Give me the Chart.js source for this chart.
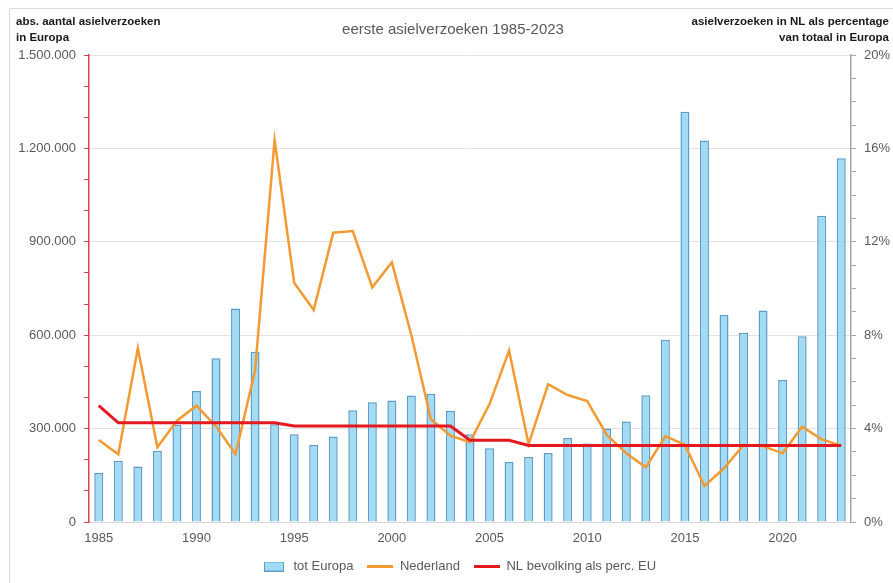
<!DOCTYPE html>
<html>
<head>
<meta charset="utf-8">
<script src="https://cdn.jsdelivr.net/npm/chart.js@4"></script>
<style>
  html, body { margin: 0; padding: 0; background: #ffffff; }
  #wrap { width: 893px; height: 583px; position: relative; }
</style>
</head>
<body>
<div id="wrap"><canvas id="c" width="893" height="583"></canvas></div>
<script>
// ---- data ----
const years = [1985,1986,1987,1988,1989,1990,1991,1992,1993,1994,1995,1996,1997,1998,1999,2000,2001,2002,2003,2004,2005,2006,2007,2008,2009,2010,2011,2012,2013,2014,2015,2016,2017,2018,2019,2020,2021,2022,2023];
const totEuropa = [157000,197000,178000,229000,312000,421000,526000,686000,547000,314000,282000,247000,275000,359000,385000,390000,406000,412000,357000,282000,237000,193000,209000,222000,270000,252000,300000,323000,407000,585000,1318000,1225000,665000,608000,679000,456000,597000,984000,1168000];
const nederland = [3.51,2.90,7.44,3.20,4.34,4.98,4.10,2.90,6.50,16.36,10.25,9.08,12.39,12.46,10.05,11.12,8.00,4.40,3.70,3.42,5.05,7.34,3.33,5.90,5.44,5.18,3.73,2.94,2.34,3.68,3.30,1.54,2.30,3.30,3.25,2.94,4.08,3.54,3.27];
const nlBevolking = [4.98,4.25,4.25,4.25,4.25,4.25,4.25,4.25,4.25,4.25,4.11,4.11,4.11,4.11,4.11,4.11,4.11,4.11,4.11,3.50,3.50,3.50,3.28,3.28,3.28,3.28,3.28,3.28,3.28,3.28,3.28,3.28,3.28,3.28,3.28,3.28,3.28,3.28,3.28];
const seriesNames = ['tot Europa', 'Nederland', 'NL bevolking als perc. EU'];
const chartTitle = 'eerste asielverzoeken 1985-2023';
const leftTitle = ['abs. aantal asielverzoeken', 'in Europa'];
const rightTitle = ['asielverzoeken in NL als percentage', 'van totaal in Europa'];

// ---- styles ----
const BAR_FILL = '#a4dbf4';
const BAR_EDGE = '#5a9dc8';
const ORANGE = '#f39a33';
const RED = '#e3191f';
const TXT = '#595959';
const FONT = "'Liberation Sans', Arial, sans-serif";

function fmtDots(v) { return String(v).replace(/\B(?=(\d{3})+(?!\d))/g, '.'); }

function makeIcon(kind, color, edge) {
  const c = document.createElement('canvas');
  if (kind === 'bar') {
    c.width = 20; c.height = 10;
    const g = c.getContext('2d');
    g.fillStyle = color; g.fillRect(0, 0, 20, 10);
    g.strokeStyle = edge; g.lineWidth = 1; g.strokeRect(0.5, 0.5, 19, 9);
  } else {
    c.width = 26; c.height = 3;
    const g = c.getContext('2d');
    g.fillStyle = color; g.fillRect(0, 0, 26, 3);
  }
  return c;
}
const icons = [makeIcon('bar', BAR_FILL, BAR_EDGE), makeIcon('line', ORANGE), makeIcon('line', RED)];

const decor = {
  id: 'decor',
  afterLayout(chart) {
    if (chart.legend) { chart.legend.left += 12; chart.legend.right += 12; }
  },
  beforeDraw(chart) {
    const ctx = chart.ctx;
    ctx.save();
    ctx.strokeStyle = '#d9d9d9';
    ctx.lineWidth = 1;
    ctx.beginPath();
    ctx.moveTo(9.5, 583); ctx.lineTo(9.5, 8.5); ctx.lineTo(893, 8.5);
    ctx.stroke();
    ctx.restore();
  },
  afterDraw(chart) {
    const ctx = chart.ctx;
    ctx.save();
    ctx.textBaseline = 'middle';
    ctx.fillStyle = TXT;
    ctx.font = "15px " + FONT;
    ctx.textAlign = 'center';
    ctx.fillText(chartTitle, 453, 30);
    ctx.fillStyle = '#1a1a1a';
    ctx.font = "bold 11.5px " + FONT;
    ctx.textAlign = 'left';
    ctx.fillText(leftTitle[0], 16, 22);
    ctx.fillText(leftTitle[1], 16, 38);
    ctx.textAlign = 'right';
    ctx.fillText(rightTitle[0], 889, 22);
    ctx.fillText(rightTitle[1], 889, 38);
    ctx.restore();
  }
};

new Chart(document.getElementById('c'), {
  data: {
    labels: years,
    datasets: [
      { type: 'bar', label: seriesNames[0], data: totEuropa, yAxisID: 'y',
        backgroundColor: BAR_FILL, borderColor: BAR_EDGE, borderWidth: 1.5,
        barPercentage: 0.46, categoryPercentage: 1, order: 3 },
      { type: 'line', label: seriesNames[1], data: nederland, yAxisID: 'y1',
        borderColor: ORANGE, backgroundColor: ORANGE, borderWidth: 2.5,
        pointRadius: 0, tension: 0, order: 2 },
      { type: 'line', label: seriesNames[2], data: nlBevolking, yAxisID: 'y1',
        borderColor: RED, backgroundColor: RED, borderWidth: 3,
        pointRadius: 0, tension: 0, order: 1 }
    ]
  },
  options: {
    responsive: false,
    animation: false,
    devicePixelRatio: 1,
    layout: { padding: { top: 55, left: 0, right: 0, bottom: 0 } },
    plugins: {
      title: { display: false },
      tooltip: { enabled: false },
      legend: {
        position: 'bottom',
        labels: {
          usePointStyle: true,
          pointStyleWidth: 26,
          padding: 14,
          color: TXT,
          font: { family: FONT, size: 13 },
          sort: (a, b) => a.datasetIndex - b.datasetIndex,
          generateLabels(chart) {
            const items = Chart.defaults.plugins.legend.labels.generateLabels(chart);
            items.forEach(it => { it.pointStyle = icons[it.datasetIndex]; it.lineWidth = 0; });
            return items;
          }
        }
      }
    },
    scales: {
      x: {
        type: 'category',
        offset: true,
        grid: { display: false, drawTicks: false },
        border: { display: true, color: '#d9d9d9', width: 1 },
        ticks: {
          autoSkip: false, maxRotation: 0, minRotation: 0, padding: 9,
          color: TXT, font: { family: FONT, size: 13 },
          callback(v, i) { return years[i] % 5 === 0 ? String(years[i]) : ''; }
        },
        afterFit(s) { s.height = 24; }
      },
      y: {
        position: 'left', min: 0, max: 1500000,
        grid: {
          color: ctx => (ctx.tick && ctx.tick.value % 300000 === 0 && ctx.tick.value > 0) ? '#e3e3e3' : 'rgba(0,0,0,0)',
          tickColor: '#d9434f', tickLength: 5, lineWidth: 1
        },
        border: { display: true, color: '#d9434f', width: 1.5 },
        ticks: {
          stepSize: 100000, padding: 8, color: TXT, font: { family: FONT, size: 13 },
          callback(v) { return v % 300000 === 0 ? fmtDots(v) : ''; }
        },
        afterFit(s) { s.width = 89; }
      },
      y1: {
        position: 'right', min: 0, max: 20,
        grid: { drawOnChartArea: false, tickColor: '#a6a6a6', tickLength: 5 },
        border: { display: true, color: '#a6a6a6', width: 1.5 },
        ticks: {
          stepSize: 1, padding: 8, color: TXT, font: { family: FONT, size: 13 },
          callback(v) { return v % 4 === 0 ? v + '%' : ''; }
        },
        afterFit(s) { s.width = 42; }
      }
    }
  },
  plugins: [decor]
});
</script>
</body>
</html>
